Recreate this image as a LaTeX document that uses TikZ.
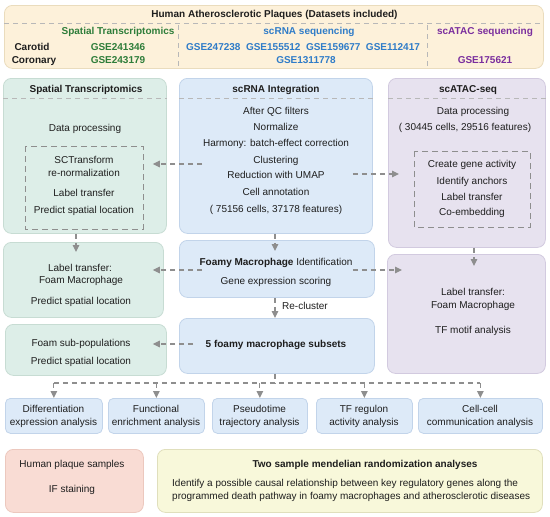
\documentclass[tikz,border=0pt]{standalone}
\usepackage{fontspec}
\setmainfont{Liberation Sans}
\usetikzlibrary{arrows.meta,calc}
\definecolor{topfill}{HTML}{FDF1DA}
\definecolor{topdraw}{HTML}{EADCBD}
\definecolor{gfill}{HTML}{DDEEE8}
\definecolor{gdraw}{HTML}{C7DCD3}
\definecolor{bfill}{HTML}{DDEAF8}
\definecolor{bdraw}{HTML}{C2D4EA}
\definecolor{pfill}{HTML}{E7E2EF}
\definecolor{pdraw}{HTML}{D2CADF}
\definecolor{rfill}{HTML}{F9DCD4}
\definecolor{rdraw}{HTML}{ECC8BE}
\definecolor{yfill}{HTML}{F8F8DA}
\definecolor{ydraw}{HTML}{E0DFBC}
\definecolor{arrc}{HTML}{8E8E8E}
\definecolor{sepc}{HTML}{B8B8B8}
\definecolor{txtc}{HTML}{1E1E1E}
\definecolor{gtxt}{HTML}{2E7D3A}
\definecolor{btxt}{HTML}{2F7CC8}
\definecolor{ptxt}{HTML}{7A2E9E}
\newcounter{tnum}
\newcommand\mkpanel[6]{%
  \pgfmathsetmacro\pw{#4-#2}\pgfmathsetmacro\ph{#5-#3}%
  \node[#6, minimum width=\pw pt, minimum height=\ph pt, anchor=north west] (#1) at (#2,#3) {};}
\newcommand\tx[4][]{\stepcounter{tnum}\node[txt,#1] (t\arabic{tnum}) at (#2,#3) {#4};}
\begin{document}
\begin{tikzpicture}[x=1pt,y=-1pt,
  txt/.style={inner sep=0pt, text height=7.2pt, text depth=0pt, font=\fontsize{10}{12}\selectfont, text=txtc},
  hd/.style={font=\fontsize{10}{12}\selectfont\bfseries},
  panel/.style={rounded corners=8pt, line width=0.8pt, inner sep=0pt},
  toppanel/.style={panel, fill=topfill, draw=topdraw},
  gpanel/.style={panel, fill=gfill, draw=gdraw},
  bpanel/.style={panel, fill=bfill, draw=bdraw},
  ppanel/.style={panel, fill=pfill, draw=pdraw},
  rpanel/.style={panel, fill=rfill, draw=rdraw},
  ypanel/.style={panel, fill=yfill, draw=ydraw},
  smallb/.style={bpanel, rounded corners=5pt},
  arr/.style={draw=arrc, line width=1.1pt, dash pattern=on 5pt off 4pt, -{Triangle[length=7pt,width=6.5pt]}},
  dl/.style={draw=arrc, line width=1.1pt, dash pattern=on 5pt off 4pt},
  ibox/.style={draw=arrc, line width=1pt, dash pattern=on 6pt off 4pt},
  hsep/.style={draw=sepc, line width=0.9pt, dash pattern=on 5pt off 4pt}]
\useasboundingbox (0,0) rectangle (550,517);

% ---------- top box ----------
\mkpanel{top}{4}{5}{543}{68}{toppanel}
\coordinate (ytop) at (0,23);
\draw[hsep] (top.west |- ytop) -- (top.east |- ytop);
\coordinate (s1a) at (178,25); \coordinate (s1b) at (178,67);
\coordinate (s2a) at (427,25); \coordinate (s2b) at (427,67);
\draw[hsep] (s1a) -- (s1b);
\draw[hsep] (s2a) -- (s2b);
\tx[hd]{274.5}{14}{Human Atherosclerotic Plaques (Datasets included)}
\tx[hd,text=gtxt]{118}{31}{Spatial Transcriptomics}
\tx[hd,text=btxt]{309}{31}{scRNA sequencing}
\tx[hd,text=ptxt]{485}{31}{scATAC sequencing}
\tx[hd]{32}{47}{Carotid}
\tx[hd]{34}{60}{Coronary}
\tx[hd,text=gtxt]{118}{47}{GSE241346}
\tx[hd,text=gtxt]{118}{60}{GSE243179}
\tx[hd,text=btxt]{303}{47}{GSE247238\hspace{5.5pt}GSE155512\hspace{5.5pt}GSE159677\hspace{5.5pt}GSE112417}
\tx[hd,text=btxt]{306}{60}{GSE1311778}
\tx[hd,text=ptxt]{485}{60}{GSE175621}

% ---------- row 1 ----------
\mkpanel{lp1}{3}{78}{166}{233}{gpanel}
\mkpanel{c1}{179}{78}{372}{233}{bpanel}
\mkpanel{r1}{388}{78}{545}{247}{ppanel}
\coordinate (y98) at (0,98);
\draw[hsep] (lp1.west |- y98) -- (lp1.east |- y98);
\draw[hsep] (c1.west |- y98) -- (c1.east |- y98);
\draw[hsep] (r1.west |- y98) -- (r1.east |- y98);
\tx[hd]{86}{89}{Spatial Transcriptomics}
\tx[hd]{276}{89}{scRNA Integration}
\tx[hd]{468}{89}{scATAC-seq}

\tx{85}{128}{Data processing}
\draw[ibox] (25,146) rectangle (143,229);
\tx{84}{160}{SCTransform}
\tx{84}{173}{re-normalization}
\tx{84}{193}{Label transfer}
\tx{84}{210}{Predict spatial location}

\tx{276}{111}{After QC filters}
\tx{276}{127}{Normalize}
\tx{276}{143}{Harmony: batch-effect correction}
\tx{276}{160}{Clustering}
\tx{276}{175}{Reduction with UMAP}
\tx{276}{192}{Cell annotation}
\tx{276}{209}{( 75156 cells, 37178 features)}

\tx{473}{111}{Data processing}
\tx{465}{127}{( 30445 cells, 29516 features)}
\draw[ibox] (414,151) rectangle (530,227);
\tx{472}{164}{Create gene activity}
\tx{472}{181}{Identify anchors}
\tx{472}{197}{Label transfer}
\tx{472}{212}{Co-embedding}

% ---------- row 2 ----------
\mkpanel{lp2}{3}{242}{163}{317}{gpanel}
\mkpanel{c2}{179}{240}{374}{297}{bpanel}
\mkpanel{r2}{387}{254}{545}{373}{ppanel}
\tx{80}{268}{Label transfer:}
\tx{81}{280}{Foam Macrophage}
\tx{81}{301}{Predict spatial location}
\tx{276}{262}{\textbf{Foamy Macrophage} Identification}
\tx{276}{281}{Gene expression scoring}
\tx{473}{292}{Label transfer:}
\tx{473}{305}{Foam Macrophage}
\tx{473}{330}{TF motif analysis}

% ---------- row 3 ----------
\mkpanel{lp3}{5}{324}{166}{375}{gpanel}
\mkpanel{c3}{179}{318}{374}{373}{bpanel}
\tx{81}{343}{Foam sub-populations}
\tx{81}{361}{Predict spatial location}
\tx[hd]{276}{344}{5 foamy macrophage subsets}

% ---------- analysis boxes ----------
\mkpanel{b1}{5}{398}{102}{433}{smallb}
\mkpanel{b2}{108}{398}{204}{433}{smallb}
\mkpanel{b3}{212}{398}{307}{433}{smallb}
\mkpanel{b4}{316}{398}{412}{433}{smallb}
\mkpanel{b5}{418}{398}{542}{433}{smallb}
\tx{53.5}{409}{Differentiation}
\tx{53.5}{422}{expression analysis}
\tx{156}{409}{Functional}
\tx{156}{422}{enrichment analysis}
\tx{259.5}{409}{Pseudotime}
\tx{259.5}{422}{trajectory analysis}
\tx{364}{409}{TF regulon}
\tx{364}{422}{activity analysis}
\tx{480}{409}{Cell-cell}
\tx{480}{422}{communication analysis}

% ---------- bottom boxes ----------
\mkpanel{pink}{5}{449}{143}{512}{rpanel}
\mkpanel{yel}{157}{449}{542}{512}{ypanel}
\tx{72}{464}{Human plaque samples}
\tx{72}{489}{IF staining}
\tx[hd]{365}{464}{Two sample mendelian randomization analyses}
\tx[anchor=west]{172}{483}{Identify a possible causal relationship between key regulatory genes along the}
\tx[anchor=west]{172}{496}{programmed death pathway in foamy macrophages and atherosclerotic diseases}

% ---------- connectors ----------
\coordinate (y164) at (0,164);
\coordinate (y174) at (0,174);
\coordinate (y270) at (0,270);
\coordinate (y344) at (0,344);
\coordinate (x76) at (76,0);
\coordinate (x275) at (275,0);
\coordinate (x474) at (474,0);
\draw[arr, shorten <=-23pt, shorten >=-14pt] (c1.west |- y164) -- (lp1.east |- y164);
\draw[arr, shorten <=-20pt, shorten >=-11pt] (c1.east |- y174) -- (r1.west |- y174);
\draw[arr, shorten >=-10pt] (lp1.south -| x76) -- (lp2.north -| x76);
\draw[arr, shorten >=-11pt] (c1.south -| x275) -- (c2.north -| x275);
\draw[arr, shorten >=-12pt] (r1.south -| x474) -- (r2.north -| x474);
\draw[arr, shorten <=-23pt, shorten >=-11pt] (c2.west |- y270) -- (lp2.east |- y270);
\draw[arr, shorten <=-22pt, shorten >=-15pt] (c2.east |- y270) -- (r2.west |- y270);
\draw[arr] (c2.south -| x275) -- (c3.north -| x275);
\tx[anchor=west]{282}{306}{Re-cluster}
\draw[arr, shorten <=-14pt, shorten >=-14pt] (c3.west |- y344) -- (lp3.east |- y344);

\coordinate (hub) at (275,383);
\draw[dl] (c3.south -| hub) -- (hub);
\draw[dl] (b1.north |- hub) -- (b5.north |- hub);
\foreach \b in {b1,b2,b3,b4,b5}{
  \draw[arr] (\b.north |- hub) -- (\b.north);
}
\end{tikzpicture}
\end{document}
